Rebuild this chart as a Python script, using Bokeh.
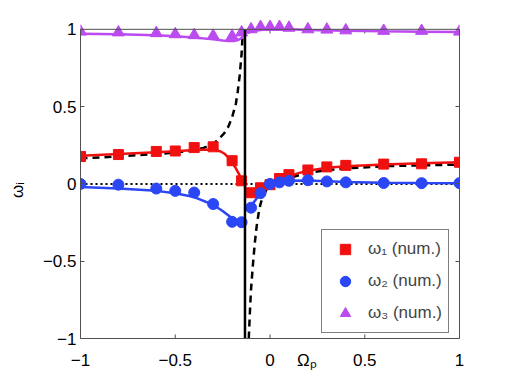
import math
from bokeh.plotting import figure
from bokeh.models import Range1d, LinearAxis, FixedTicker, Span, Legend, LegendItem
from bokeh.embed import file_html
from bokeh.resources import INLINE

# ---------------- data ----------------
x_ticks = [-1, -0.5, 0, 0.5, 1]
x_tick_labels = ["\u22121", "\u22120.5", "0", "0.5", "1"]
y_ticks = [-1, -0.5, 0, 0.5, 1]
y_tick_labels = ["\u22121", "\u22120.5", "0", "0.5", "1"]
x_label = "\u03a9\u209a"        # Omega_p, sits on the tick-label row
x_label_pos = 0.195
y_label = "\u03c9\u1d62"        # omega_i
y_label_pos = -0.04

# numerical samples
x_num = [-1, -0.8, -0.6, -0.5, -0.4, -0.3, -0.2, -0.15, -0.1, -0.05, 0, 0.05, 0.1, 0.2, 0.3, 0.4, 0.6, 0.8, 1.0]
w1_num = [0.177, 0.19, 0.21, 0.213, 0.235, 0.24, 0.15, 0.02, -0.057, -0.025, -0.005, 0.035, 0.06, 0.09, 0.11, 0.12, 0.128, 0.13, 0.14]
w2_num = [0.0, -0.005, -0.03, -0.045, -0.056, -0.13, -0.245, -0.248, -0.154, -0.06, 0.0, 0.01, 0.02, 0.024, 0.016, 0.01, 0.006, 0.005, 0.005]
w3_num = [0.985, 0.98, 0.975, 0.968, 0.962, 0.958, 0.955, 0.98, 1.0, 1.015, 1.015, 1.015, 1.01, 1.0, 0.998, 0.993, 0.99, 0.99, 0.985]

# resonance position (vertical line)
x_res = -0.132

# theory curves, left and right branches
w1_left_x = [-1, -0.8, -0.6, -0.5, -0.4, -0.3, -0.26, -0.24, -0.22, -0.2, -0.18, -0.16, -0.145, -0.135]
w1_left_y = [0.182, 0.193, 0.205, 0.212, 0.22, 0.222, 0.21, 0.195, 0.172, 0.14, 0.1, 0.055, 0.015, -0.005]
w1_right_x = [-0.12, -0.1, -0.07, -0.04, 0, 0.05, 0.1, 0.15, 0.2, 0.3, 0.4, 0.6, 0.8, 1.0]
w1_right_y = [-0.065, -0.06, -0.045, -0.03, -0.01, 0.025, 0.05, 0.07, 0.085, 0.105, 0.115, 0.125, 0.133, 0.14]

w2_left_x = [-1, -0.8, -0.6, -0.5, -0.4, -0.3, -0.25, -0.2, -0.17, -0.15, -0.138]
w2_left_y = [-0.02, -0.03, -0.045, -0.06, -0.085, -0.135, -0.175, -0.222, -0.25, -0.265, -0.275]
w2_right_x = [-0.11, -0.1, -0.08, -0.06, -0.04, -0.02, 0, 0.05, 0.1, 0.2, 0.3, 0.4, 0.6, 0.8, 1.0]
w2_right_y = [-0.16, -0.14, -0.11, -0.075, -0.045, -0.02, 0, 0.013, 0.02, 0.022, 0.017, 0.012, 0.008, 0.006, 0.005]

w3_left_x = [-1, -0.8, -0.6, -0.5, -0.4, -0.3, -0.25, -0.22, -0.19, -0.17, -0.155, -0.14]
w3_left_y = [0.972, 0.968, 0.962, 0.955, 0.947, 0.935, 0.928, 0.924, 0.924, 0.93, 0.94, 0.955]
w3_right_x = [-0.12, -0.1, -0.05, 0, 0.1, 0.2, 0.4, 0.6, 0.8, 1.0]
w3_right_y = [0.975, 0.985, 0.995, 1.0, 1.0, 0.995, 0.99, 0.987, 0.985, 0.982]

# approximate (dashed) curve
approx_left_x = [-1, -0.8, -0.6, -0.5, -0.4, -0.35, -0.3, -0.27, -0.24, -0.22, -0.2, -0.18, -0.17, -0.16, -0.155, -0.15, -0.146, -0.143]
approx_left_y = [0.165, 0.178, 0.193, 0.203, 0.218, 0.233, 0.258, 0.29, 0.33, 0.37, 0.43, 0.52, 0.6, 0.7, 0.77, 0.84, 0.93, 1.0]
approx_right_x = [-0.112, -0.105, -0.1, -0.095, -0.09, -0.08, -0.07, -0.06, -0.05, -0.04, -0.02, 0, 0.05, 0.1, 0.2, 0.3, 0.4, 0.6, 0.8, 1.0]
approx_right_y = [-1.0, -0.8, -0.68, -0.6, -0.52, -0.38, -0.27, -0.19, -0.13, -0.09, -0.04, -0.01, 0.02, 0.04, 0.07, 0.09, 0.1, 0.115, 0.12, 0.125]

RED = "#f01010"
BLUE = "#2a46f5"
PURPLE = "#bb4af0"
AX = "#505050"
FONT = "Liberation Sans"

p = figure(frame_width=379, frame_height=320,
           x_range=Range1d(-1, 1), y_range=Range1d(-1, 1.07),
           output_backend="svg", toolbar_location=None,
           min_border_left=80, min_border_top=18, min_border_right=30, min_border_bottom=30,
           background_fill_color="white", border_fill_color="white")
p.outline_line_color = None
p.grid.visible = False

# bottom axis: tick marks drawn separately, labels include Omega_p
xa = p.xaxis[0]
xa.ticker = FixedTicker(ticks=x_ticks + [x_label_pos])
overrides = {t: l for t, l in zip(x_ticks, x_tick_labels)}
overrides[x_label_pos] = x_label
xa.major_label_overrides = overrides
xa.major_tick_line_color = None
xa.minor_tick_line_color = None
xa.axis_line_color = AX
xa.major_label_text_font = FONT
xa.major_label_text_font_size = "17px"
xa.major_label_text_color = "black"
xa.major_label_standoff = 6

ya = p.yaxis[0]
ya.ticker = FixedTicker(ticks=y_ticks)
ya.major_label_overrides = {t: l for t, l in zip(y_ticks, y_tick_labels)}
ya.major_tick_in = 4
ya.major_tick_out = 0
ya.minor_tick_line_color = None
ya.axis_line_color = AX
ya.major_tick_line_color = AX
ya.major_label_text_font = FONT
ya.major_label_text_font_size = "17px"
ya.major_label_text_color = "black"
ya.major_label_standoff = 4
ya.bounds = (-1, 1)

# y label as an extra (line-less) left axis
yl = LinearAxis(ticker=FixedTicker(ticks=[y_label_pos]),
                major_label_overrides={y_label_pos: y_label},
                major_label_orientation="vertical",
                major_label_text_font=FONT, major_label_text_font_size="17px",
                major_label_text_color="black", major_label_standoff=6,
                axis_line_color=None, major_tick_line_color=None, minor_tick_line_color=None)
p.add_layout(yl, "left")

ra = LinearAxis(ticker=FixedTicker(ticks=y_ticks), bounds=(-1, 1),
                major_label_overrides={t: "" for t in y_ticks},
                major_tick_in=4, major_tick_out=0, minor_tick_line_color=None,
                axis_line_color=AX, major_tick_line_color=AX)
p.add_layout(ra, "right")
p.add_layout(Span(location=1, dimension="width", line_color=AX, line_width=1))
tick_len = 4 / 152.0
p.segment(x0=x_ticks[1:-1], y0=[1] * 3, x1=x_ticks[1:-1], y1=[1 - tick_len] * 3,
          line_color=AX, line_width=1)
p.segment(x0=x_ticks[1:-1], y0=[-1] * 3, x1=x_ticks[1:-1], y1=[-1 + tick_len] * 3,
          line_color=AX, line_width=1)

# zero line
p.line([x_ticks[0], x_ticks[-1]], [0, 0], line_color="black", line_width=2, line_dash="2 3")

# approx dashed
p.line(approx_left_x, approx_left_y, line_color="black", line_width=2.5, line_dash="7 5")
p.line(approx_right_x, approx_right_y, line_color="black", line_width=2.5, line_dash="7 5")

# theory lines
p.line(w1_left_x, w1_left_y, line_color=RED, line_width=2.5)
p.line(w1_right_x, w1_right_y, line_color=RED, line_width=2.5)
p.line(w2_left_x, w2_left_y, line_color=BLUE, line_width=2.5)
p.line(w2_right_x, w2_right_y, line_color=BLUE, line_width=2.5)
p.line(w3_left_x, w3_left_y, line_color=PURPLE, line_width=2.5)
p.line(w3_right_x, w3_right_y, line_color=PURPLE, line_width=2.5)

# numerical markers
r1 = p.scatter(x_num, w1_num, marker="square", size=10, fill_color=RED, line_color=RED)
r2 = p.scatter(x_num, w2_num, marker="circle", size=11, fill_color=BLUE, line_color=BLUE)
r3 = p.scatter(x_num, w3_num, marker="triangle", size=12, fill_color=PURPLE, line_color=PURPLE)

# resonance
p.line([x_res, x_res], [-1, 1], line_color="black", line_width=2.5)

legend = Legend(items=[LegendItem(label="\u03c9\u2081 (num.)", renderers=[r1]),
                       LegendItem(label="\u03c9\u2082 (num.)", renderers=[r2]),
                       LegendItem(label="\u03c9\u2083 (num.)", renderers=[r3])],
                location=(241, 5), margin=0, padding=6, spacing=6,
                glyph_width=34, glyph_height=26, label_height=26, label_standoff=6,
                label_text_font=FONT, label_text_font_size="17px",
                border_line_color="black", border_line_width=1,
                background_fill_color="white", background_fill_alpha=1)
p.add_layout(legend)

open("out.html", "w").write(file_html(p, INLINE))
